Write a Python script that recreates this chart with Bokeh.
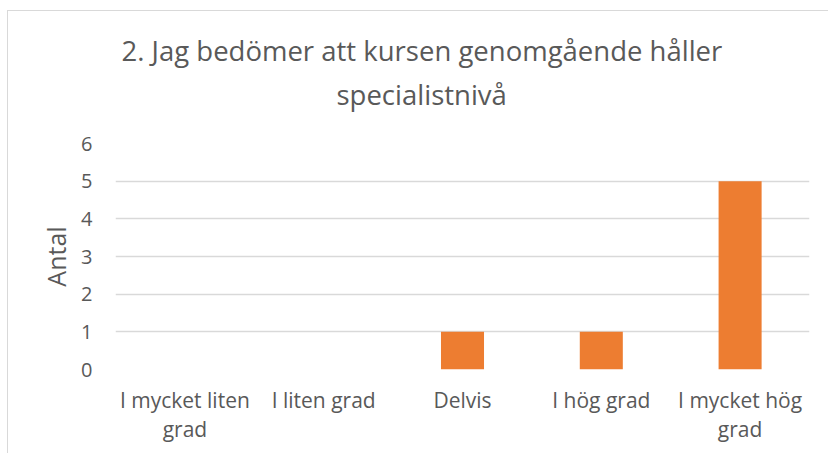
from bokeh.plotting import figure
from bokeh.models import Title, FactorRange, Range1d, ColumnDataSource
from bokeh.embed import file_html
from bokeh.resources import INLINE

categories = ["I mycket liten\ngrad", "I liten grad", "Delvis", "I hög grad", "I mycket hög\ngrad"]
values = [0, 0, 1, 1, 5]
y_ticks = [0, 1, 2, 3, 4, 5, 6]
title_lines = ["2. Jag bedömer att kursen genomgående håller", "specialistnivå"]
y_label = "Antal"

TEXT = "#595959"
FONT = "Open Sans"

src = ColumnDataSource(data=dict(cat=categories, val=values))

p = figure(
    width=821, height=443,
    x_range=FactorRange(factors=categories, range_padding=0),
    y_range=Range1d(0, 6),
    output_backend="svg", toolbar_location=None,
    min_border_left=107, min_border_right=20,
    min_border_bottom=85, min_border_top=132,
)
p.styles = {"margin-left": "7px", "margin-top": "10px",
            "border-top": "1px solid #d9d9d9", "border-left": "1px solid #d9d9d9"}
p.outline_line_color = None
p.background_fill_color = "white"
p.border_fill_color = "white"

p.vbar(x="cat", top="val", width=0.31, source=src, fill_color="#ED7D31", line_color=None)

spacer = Title(text=" ", text_font_size="1px", standoff=28)
t2 = Title(text=title_lines[1], align="left", text_font=FONT, text_font_size="27.5px",
           text_font_style="normal", text_color=TEXT, standoff=0, offset=221)
t1 = Title(text=title_lines[0], align="left", text_font=FONT, text_font_size="27.5px",
           text_font_style="normal", text_color=TEXT, standoff=10, offset=6)
p.add_layout(spacer, "above")
p.add_layout(t2, "above")
p.add_layout(t1, "above")

p.xgrid.grid_line_color = None
p.ygrid.grid_line_color = "#d9d9d9"
p.ygrid.grid_line_width = 1.3

p.yaxis.ticker = y_ticks
p.yaxis.axis_line_color = None
p.yaxis.major_tick_line_color = None
p.yaxis.minor_tick_line_color = None
p.yaxis.major_tick_out = 0
p.yaxis.major_tick_in = 0
p.yaxis.major_label_standoff = 23
p.yaxis.major_label_text_font = FONT
p.yaxis.major_label_text_font_size = "20px"
p.yaxis.major_label_text_color = TEXT
p.yaxis.axis_label = y_label
p.yaxis.axis_label_text_font = FONT
p.yaxis.axis_label_text_font_size = "25px"
p.yaxis.axis_label_text_font_style = "normal"
p.yaxis.axis_label_text_color = TEXT
p.yaxis.axis_label_standoff = 5

p.xaxis.axis_line_color = None
p.xaxis.major_tick_line_color = None
p.xaxis.minor_tick_line_color = None
p.xaxis.major_tick_out = 0
p.xaxis.major_tick_in = 0
p.xaxis.major_label_standoff = 16
p.xaxis.major_label_text_font = FONT
p.xaxis.major_label_text_font_size = "21px"
p.xaxis.major_label_text_color = TEXT
p.xaxis.major_label_text_line_height = 1.05

open("out.html", "w").write(file_html(p, INLINE))
